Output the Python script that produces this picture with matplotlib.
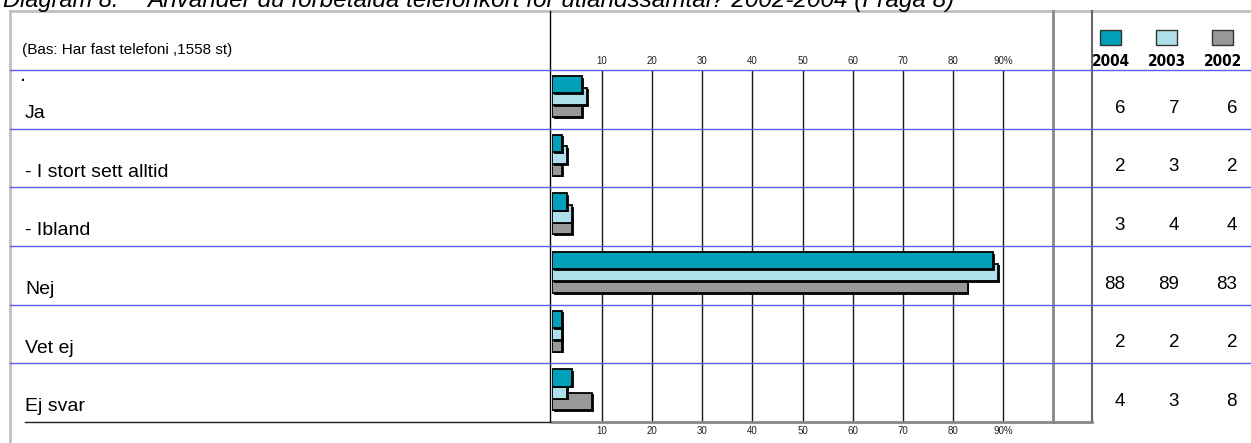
import matplotlib
matplotlib.use('Agg')
import matplotlib.pyplot as plt
import matplotlib.patheffects as pe
from matplotlib.lines import Line2D
from matplotlib.patches import Rectangle
from matplotlib.transforms import blended_transform_factory
import numpy as np

# ------------------------------ Data -----------------------------------
categories = ['Ja', '- I stort sett alltid', '- Ibland', 'Nej', 'Vet ej', 'Ej svar']
years = ['2004', '2003', '2002']
values_2004 = [6, 2, 3, 88, 2, 4]
values_2003 = [7, 3, 4, 89, 2, 3]
values_2002 = [6, 2, 4, 83, 2, 8]
x_ticks = [10, 20, 30, 40, 50, 60, 70, 80, 90]
x_tick_labels = ['10', '20', '30', '40', '50', '60', '70', '80', '90%']
title_num = 'Diagram 8.'
title_text = 'Använder du förbetalda telefonkort för utlandssamtal? 2002-2004 (Fråga 8)'
base_note = '(Bas: Har fast telefoni ,1558 st)'

# ------------------------------ Layout helpers -----------------------------------
W, H = 1251, 443
def px(x):
    return x / W
def py(y):
    return 1 - y / H

colors = ['#00a0b8', '#aee0e9', '#999999']
blue = '#5c5cf2'

fig = plt.figure(figsize=(W / 100, H / 100), dpi=100)
plt.rcParams['font.family'] = ['Liberation Sans', 'DejaVu Sans']

# bar area: 0..100 % from x=552 to 1053, rows from y=70 to 422
ax = fig.add_axes([px(552), py(422), px(1053) - px(552), py(70) - py(422)])
ax.set_xlim(0, 100)
ax.set_ylim(5.5, -0.5)

rows = np.arange(len(categories))
series = [values_2002, values_2003, values_2004]
offsets = [0.15, -0.05, -0.25]
ser_colors = [colors[2], colors[1], colors[0]]
shadow = [pe.SimplePatchShadow(offset=(1.2, -1.2), shadow_rgbFace='black', alpha=0.9), pe.Normal()]
for i, (vals, off, c) in enumerate(zip(series, offsets, ser_colors)):
    bars = ax.barh(rows + off, vals, height=0.30, color=c, edgecolor='black',
                   linewidth=1.3, zorder=3 + i)
    for b in bars:
        b.set_path_effects(shadow)

ax.set_xticks(x_ticks, x_tick_labels)
ax.set_yticks([])
ax.tick_params(axis='x', top=True, labeltop=True, bottom=True, labelbottom=True,
               length=0, labelsize=7, pad=3, labelcolor='#222222')
ax.grid(axis='x', color='#1a1a1a', linewidth=1, zorder=1)
for s in ['left', 'top', 'right']:
    ax.spines[s].set_visible(False)
ax.spines['bottom'].set_color('#888888')
ax.spines['bottom'].set_linewidth(2)

# ------------------------------ Frame and table lines -----------------------------------
tr_rows = blended_transform_factory(fig.transFigure, ax.transData)
tr_cols = blended_transform_factory(ax.transData, fig.transFigure)

fig.add_artist(Line2D([px(10), 1], [py(11), py(11)], color='#c0c0c0', lw=2))
fig.add_artist(Line2D([px(10), px(10)], [0, py(11)], color='#c0c0c0', lw=2))
fig.add_artist(Line2D([px(550), px(550)], [py(422), py(11)], color='black', lw=1))
fig.add_artist(Line2D([100, 100], [py(422), py(11)], transform=tr_cols, color='#888888', lw=2))
fig.add_artist(Line2D([px(1092), px(1092)], [py(422), py(11)], color='#666666', lw=1.5))
fig.add_artist(Line2D([px(1053), px(1092)], [py(422), py(422)], color='#888888', lw=2))

for b in np.arange(-0.5, len(categories) - 1, 1.0):
    fig.add_artist(Line2D([px(10), 1], [b, b], transform=tr_rows, color=blue, lw=1))
fig.add_artist(Line2D([px(25), px(550)], [5.5, 5.5], transform=tr_rows, color='#222222', lw=1))

# ------------------------------ Texts -----------------------------------
fig.text(px(3), py(7), title_num, fontsize=17, style='italic', va='baseline')
fig.text(px(147), py(7), title_text, fontsize=17.5, style='italic', va='baseline')
fig.text(px(22), py(50), base_note, fontsize=11, va='center')
fig.text(px(21), py(77), '.', fontsize=10, va='center', fontweight='bold')

for r, cat in zip(rows, categories):
    fig.text(px(25), r + 0.24, cat, transform=tr_rows, fontsize=14, va='center')

value_x = [1125, 1179, 1237]
for vals, xr in zip([values_2004, values_2003, values_2002], value_x):
    for r, v in zip(rows, vals):
        fig.text(px(xr), r + 0.15, str(v), transform=tr_rows, fontsize=13.5,
                 va='center', ha='right')

# legend
legend_x = [1100, 1156, 1212]
for yr, c, lx in zip(years, colors, legend_x):
    fig.add_artist(Rectangle((px(lx), py(45)), px(21), py(30) - py(45), facecolor=c,
                             edgecolor='#333333', lw=1))
    fig.text(px(lx + 11), py(61), yr, fontsize=11, fontweight='bold', ha='center',
             va='center', family='DejaVu Sans', fontstretch='condensed')

fig.savefig('out.png', dpi=100)
